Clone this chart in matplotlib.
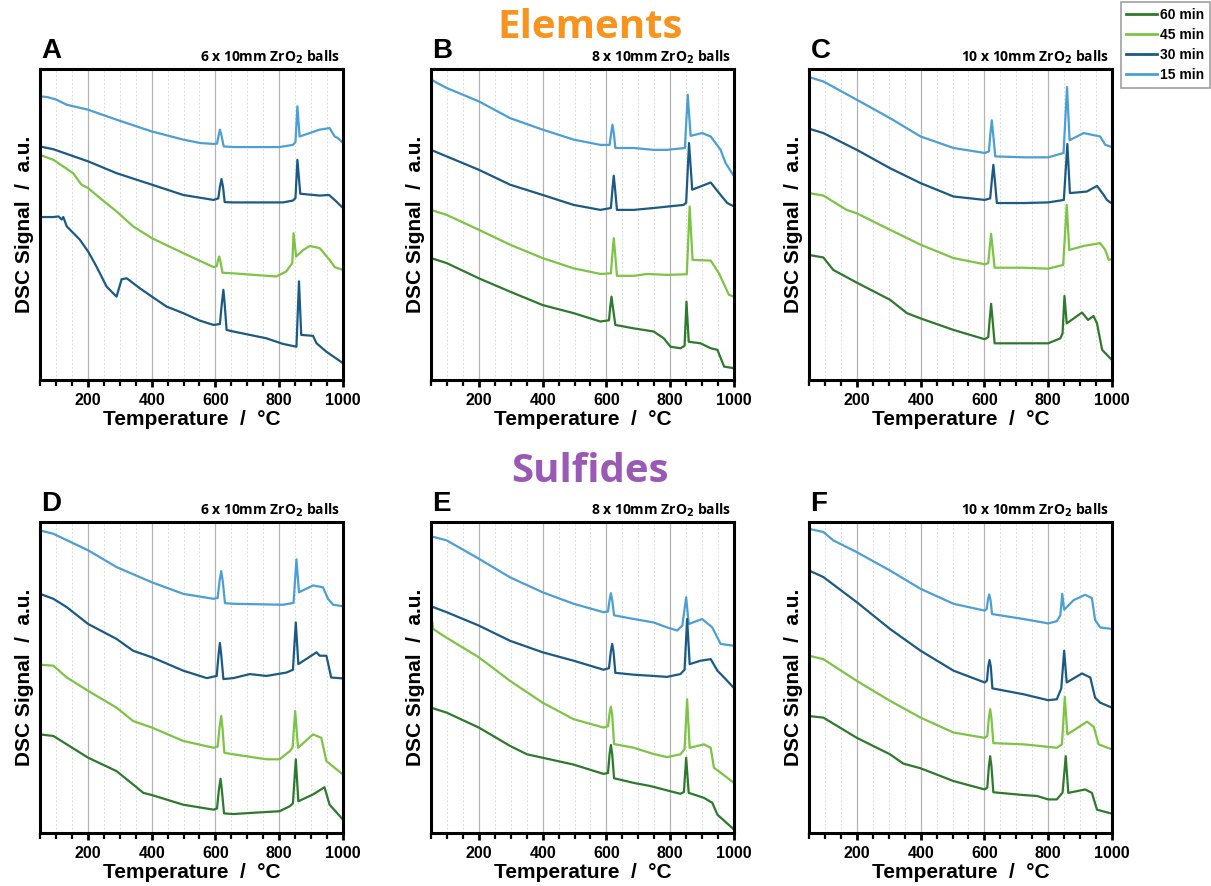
import matplotlib.pyplot as plt
from matplotlib.ticker import MultipleLocator
from matplotlib.lines import Line2D

plt.rcParams['font.family'] = ['Liberation Sans', 'DejaVu Sans']

# curve colours per milling time
c60, c45, c30, c15 = "#2e7a2c", "#7cc443", "#1b5a84", "#4c9fd5"
times = ["60 min", "45 min", "30 min", "15 min"]

# ---- Elements, 6 balls (A) ----
A15 = [(50, 91.2), (72, 91.0), (100, 90.2), (134, 88.5), (201, 86.9), (290, 83.7), (401, 79.9), (499, 77.3),
       (552, 76.2), (594, 75.9), (605, 76.0), (610, 78.6), (614, 80.5), (619, 78.6), (626, 75.1), (656, 74.9),
       (800, 74.9), (843, 75.6), (851, 76.5), (857, 88.0), (864, 78.3), (927, 80.5), (958, 81.0), (974, 78.3),
       (984, 77.8), (1000, 76.2)]
A30 = [(50, 75.1), (92, 74.2), (201, 70.3), (290, 66.5), (401, 62.8), (499, 59.5), (594, 57.9), (609, 58.4),
       (614, 62.0), (619, 64.6), (624, 62.0), (629, 57.2), (656, 57.1), (812, 57.1), (843, 57.7), (851, 58.5),
       (857, 70.8), (866, 59.9), (927, 59.3), (956, 59.5), (974, 57.9), (1000, 55.3)]
A45 = [(50, 72.4), (92, 70.8), (154, 66.5), (170, 64.2), (180, 62.8), (201, 61.7), (238, 58.5), (290, 54.2),
       (342, 49.4), (401, 45.6), (499, 40.8), (594, 36.3), (604, 36.6), (608, 38.4), (612, 39.7), (616, 38.0),
       (622, 34.5), (656, 34.3), (760, 33.5), (791, 33.3), (822, 34.9), (841, 37.6), (845, 47.2), (853, 39.7),
       (875, 41.8), (896, 43.1), (927, 42.4), (958, 38.6), (974, 36.3), (1000, 35.4)]
A60 = [(50, 52.4), (92, 52.4), (108, 52.6), (118, 51.6), (123, 52.4), (134, 49.4), (175, 45.1), (201, 41.3),
       (227, 36.5), (259, 30.0), (290, 26.8), (306, 32.4), (322, 32.7), (363, 29.5), (401, 26.8), (447, 23.6),
       (499, 21.5), (551, 19.1), (594, 17.7), (614, 18.0), (620, 24.5), (625, 29.0), (629, 24.5), (635, 16.1),
       (656, 15.6), (760, 13.4), (812, 11.6), (854, 10.7), (862, 31.7), (869, 14.5), (906, 14.2), (917, 11.8),
       (948, 9.1), (1000, 5.4)]

# ---- Elements, 8 balls (B) ----
B15 = [(50, 96.6), (99, 93.9), (200, 89.6), (298, 84.2), (400, 80.5), (497, 77.3), (581, 75.6), (610, 75.6),
       (615, 79.5), (619, 82.1), (623, 79.5), (628, 74.6), (686, 74.6), (748, 74.0), (790, 74.0), (846, 74.6),
       (855, 91.7), (864, 78.5), (900, 79.4), (927, 78.3), (958, 74.0), (974, 69.7), (1000, 65.5)]
B30 = [(50, 74.0), (99, 71.9), (200, 67.6), (298, 62.8), (400, 59.5), (497, 56.3), (581, 54.7), (614, 55.3),
       (619, 61.5), (623, 65.7), (627, 61.5), (633, 54.7), (686, 54.7), (748, 55.3), (842, 56.3), (850, 57.0),
       (859, 76.2), (869, 61.2), (927, 63.5), (958, 59.5), (979, 56.9), (1000, 55.8)]
B45 = [(50, 54.7), (99, 53.1), (200, 48.3), (298, 43.5), (400, 39.2), (497, 35.9), (581, 34.1), (614, 34.3),
       (619, 41.0), (623, 45.6), (627, 41.0), (633, 33.5), (686, 33.5), (728, 34.1), (790, 33.8), (852, 34.0),
       (861, 55.8), (870, 38.6), (927, 38.4), (953, 34.3), (984, 27.4), (1000, 26.8)]
B60 = [(50, 39.2), (99, 37.6), (200, 32.7), (298, 28.4), (400, 24.1), (497, 21.5), (581, 18.8), (608, 19.2),
       (612, 23.5), (616, 26.8), (620, 23.5), (628, 17.7), (686, 16.6), (748, 15.6), (780, 13.4), (801, 10.7),
       (832, 10.2), (845, 11.0), (851, 25.2), (858, 12.3), (895, 11.8), (927, 10.2), (948, 9.7), (969, 4.3),
       (1000, 3.8)]

# ---- Elements, 10 balls (C) ----
C15 = [(50, 97.4), (95, 96.0), (200, 90.1), (304, 84.2), (400, 78.3), (503, 74.6), (601, 73.0), (614, 73.5),
       (619, 79.5), (623, 83.5), (627, 79.5), (634, 71.9), (723, 71.6), (800, 71.6), (848, 73.0), (859, 94.2),
       (867, 77.1), (911, 79.4), (963, 78.3), (979, 75.6), (1000, 74.9)]
C30 = [(50, 80.8), (95, 79.4), (200, 74.0), (304, 68.1), (400, 63.3), (503, 59.0), (601, 57.9), (618, 58.4),
       (624, 65.0), (628, 69.2), (632, 65.0), (639, 56.9), (723, 56.9), (800, 57.1), (849, 57.9), (860, 75.9),
       (868, 60.1), (921, 60.6), (953, 62.4), (974, 59.5), (984, 57.9), (1000, 56.7)]
C45 = [(50, 60.1), (95, 59.3), (168, 54.7), (200, 53.6), (304, 48.3), (400, 43.5), (503, 39.2), (601, 37.2),
       (612, 37.6), (617, 43.0), (621, 47.0), (625, 43.0), (632, 36.1), (723, 36.1), (800, 35.8), (847, 37.0),
       (858, 56.3), (866, 41.8), (911, 43.1), (963, 44.0), (979, 41.8), (990, 38.6), (1000, 38.9)]
C60 = [(50, 40.2), (95, 39.4), (126, 35.4), (200, 31.3), (304, 25.8), (357, 21.5), (400, 19.8), (503, 16.1),
       (601, 13.1), (612, 13.8), (617, 20.0), (621, 24.5), (625, 20.0), (632, 11.8), (723, 11.8), (800, 11.8),
       (838, 13.4), (845, 15.0), (851, 27.0), (858, 18.2), (906, 21.7), (925, 19.3), (942, 20.6), (953, 18.2),
       (969, 9.7), (1000, 6.4)]

# ---- Sulfides, 6 balls (D) ----
D15 = [(50, 97.3), (92, 96.2), (201, 90.9), (290, 85.5), (401, 80.6), (499, 76.9), (594, 75.3), (607, 75.6),
       (613, 81.0), (618, 84.2), (623, 81.0), (630, 73.9), (656, 73.7), (760, 73.5), (812, 73.4), (845, 74.0),
       (854, 88.0), (862, 77.4), (906, 79.6), (937, 79.0), (953, 75.3), (969, 73.4), (1000, 72.9)]
D30 = [(50, 76.9), (92, 75.3), (134, 72.6), (201, 67.2), (290, 62.4), (342, 58.6), (401, 56.5), (499, 52.2),
       (573, 49.8), (604, 50.5), (610, 57.5), (614, 61.1), (618, 57.5), (625, 49.5), (656, 49.8), (708, 51.1),
       (760, 50.5), (823, 51.6), (843, 52.5), (852, 67.7), (860, 54.3), (917, 58.1), (927, 57.0), (948, 57.0),
       (963, 50.0), (1000, 49.7)]
D45 = [(50, 54.1), (92, 53.8), (134, 50.0), (201, 45.7), (290, 40.3), (342, 36.0), (401, 33.9), (499, 29.6),
       (594, 27.4), (607, 27.8), (613, 34.0), (618, 37.6), (622, 34.0), (628, 25.8), (656, 25.3), (760, 23.7),
       (801, 23.7), (833, 26.3), (842, 27.5), (850, 39.2), (859, 27.4), (906, 31.7), (932, 30.6), (948, 23.1),
       (1000, 18.8)]
D60 = [(50, 31.7), (92, 31.2), (134, 28.5), (201, 24.2), (290, 19.9), (342, 15.6), (374, 12.9), (401, 12.2),
       (499, 9.1), (594, 7.5), (605, 7.9), (611, 14.0), (616, 17.4), (620, 14.0), (627, 6.3), (656, 6.1),
       (718, 6.5), (801, 7.0), (833, 8.6), (843, 9.5), (852, 23.7), (860, 10.2), (906, 12.4), (942, 14.7),
       (958, 9.1), (1000, 4.3)]

# ---- Sulfides, 8 balls (E) ----
E15 = [(50, 95.4), (99, 94.1), (200, 88.2), (298, 82.2), (400, 77.4), (497, 73.7), (591, 71.0), (605, 71.2),
       (610, 75.0), (614, 77.1), (618, 75.0), (624, 70.0), (686, 68.8), (748, 67.7), (790, 66.1), (822, 65.1),
       (838, 66.7), (850, 75.8), (858, 67.2), (900, 68.8), (932, 66.1), (958, 60.8), (1000, 60.2)]
E30 = [(50, 72.9), (99, 71.0), (200, 66.7), (298, 61.8), (400, 58.1), (497, 55.4), (591, 52.5), (608, 53.0),
       (614, 58.5), (618, 60.8), (622, 58.5), (628, 51.5), (686, 50.9), (748, 50.5), (790, 50.2), (832, 51.1),
       (845, 52.5), (853, 68.8), (861, 54.3), (895, 55.4), (927, 55.9), (948, 52.2), (969, 50.0), (1000, 46.6)]
E45 = [(50, 69.9), (57, 65.6), (89, 63.4), (200, 56.5), (298, 48.9), (400, 41.9), (497, 36.6), (591, 33.9),
       (605, 34.3), (610, 38.5), (614, 40.6), (618, 38.0), (624, 28.6), (686, 27.4), (748, 25.4), (790, 24.4),
       (832, 25.3), (845, 27.0), (853, 43.0), (861, 27.4), (906, 28.5), (927, 27.4), (937, 21.0), (958, 19.4),
       (1000, 16.1)]
E60 = [(50, 40.3), (99, 38.7), (200, 33.9), (298, 28.0), (351, 25.3), (400, 24.2), (497, 22.0), (591, 19.0),
       (605, 19.3), (610, 25.5), (614, 28.3), (618, 25.5), (624, 17.6), (686, 16.1), (738, 15.1), (790, 13.7),
       (832, 12.6), (843, 13.2), (850, 24.2), (858, 12.9), (906, 11.3), (932, 9.7), (948, 5.9), (1000, 1.1)]

# ---- Sulfides, 10 balls (F) ----
F15 = [(50, 97.8), (95, 96.8), (126, 94.1), (200, 90.3), (304, 84.4), (400, 78.5), (503, 73.7), (601, 71.5),
       (607, 72.0), (611, 75.0), (615, 76.7), (619, 75.0), (624, 70.4), (723, 68.8), (800, 67.4), (827, 68.1),
       (838, 70.0), (844, 76.9), (850, 71.8), (880, 74.9), (916, 76.6), (937, 75.5), (947, 68.5), (963, 66.1),
       (1000, 65.6)]
F30 = [(50, 84.4), (95, 82.3), (200, 74.2), (304, 65.6), (400, 58.6), (503, 52.2), (601, 48.4), (608, 49.0),
       (612, 53.5), (616, 55.6), (620, 53.5), (625, 46.5), (723, 44.6), (800, 42.7), (827, 43.0), (841, 46.5),
       (850, 58.6), (858, 48.4), (906, 51.3), (932, 50.0), (947, 43.5), (963, 41.9), (1000, 40.3)]
F45 = [(50, 57.0), (95, 55.9), (200, 48.9), (304, 42.5), (400, 37.1), (503, 32.3), (601, 30.6), (609, 31.2),
       (614, 37.0), (618, 39.8), (622, 37.0), (628, 28.9), (723, 28.5), (754, 28.2), (827, 27.4), (843, 28.5),
       (852, 43.8), (860, 31.7), (922, 35.8), (943, 34.1), (958, 28.5), (1000, 26.9)]
F60 = [(50, 37.6), (95, 37.1), (200, 30.6), (304, 25.3), (346, 22.3), (400, 20.8), (503, 16.7), (601, 14.0),
       (609, 14.6), (614, 21.5), (618, 24.7), (622, 21.5), (628, 13.1), (723, 12.2), (765, 11.9), (800, 10.8),
       (827, 10.8), (845, 13.0), (855, 24.7), (863, 12.9), (916, 14.0), (937, 12.9), (953, 7.5), (1000, 6.2)]

panels = [
    ("A", "6", [(A15, c15), (A30, c30), (A45, c45), (A60, c30)]),
    ("B", "8", [(B15, c15), (B30, c30), (B45, c45), (B60, c60)]),
    ("C", "10", [(C15, c15), (C30, c30), (C45, c45), (C60, c60)]),
    ("D", "6", [(D15, c15), (D30, c30), (D45, c45), (D60, c60)]),
    ("E", "8", [(E15, c15), (E30, c30), (E45, c45), (E60, c60)]),
    ("F", "10", [(F15, c15), (F30, c30), (F45, c45), (F60, c60)]),
]

W, H = 1211, 886
fig = plt.figure(figsize=(W / 100, H / 100), dpi=100)

lefts = [40, 431, 809]
tops = [69, 522]
for i, (letter, nballs, curves) in enumerate(panels):
    l = lefts[i % 3]
    t = tops[i // 3]
    ax = fig.add_axes([l / W, 1 - (t + 311) / H, 303 / W, 311 / H])
    for pts, col in curves:
        ax.plot([p[0] for p in pts], [p[1] for p in pts], color=col, lw=1.6,
                solid_joinstyle="round", solid_capstyle="round")
    ax.set_xlim(50, 1000)
    ax.set_ylim(0, 100)
    ax.xaxis.set_major_locator(MultipleLocator(200))
    ax.xaxis.set_minor_locator(MultipleLocator(50))
    ax.grid(True, which="major", axis="x", color="#b4b4b4", lw=0.9)
    ax.grid(True, which="minor", axis="x", color="#dcdcdc", lw=0.7, ls=(0, (2, 2)))
    ax.set_axisbelow(True)
    ax.set_yticks([])
    ax.tick_params(axis="x", which="major", length=5, width=2, direction="out", labelsize=11.5, pad=4)
    ax.tick_params(axis="x", which="minor", length=4, width=1.6, direction="out")
    for lab in ax.get_xticklabels():
        lab.set_fontweight("bold")
    for s in ax.spines.values():
        s.set_linewidth(2.2)
    ax.set_xlabel("Temperature  /  °C", fontsize=15, fontweight="bold", labelpad=2)
    ax.set_ylabel("DSC Signal  /  a.u.", fontsize=15, fontweight="bold", labelpad=4)
    ax.text(0.005, 1.015, letter, transform=ax.transAxes, fontsize=20, fontweight="bold", va="bottom", ha="left")
    ax.text(0.99, 1.01, nballs + r" x 10mm ZrO$_{\bf 2}$ balls", transform=ax.transAxes, fontsize=10,
            fontweight="bold", family="Open Sans", va="bottom", ha="right")

fig.text(590 / W, 1 - 27 / H, "Elements", color="#f7941d", fontsize=29, fontweight="bold",
         family="Open Sans", ha="center", va="center")
fig.text(590 / W, 1 - 472 / H, "Sulfides", color="#9b59b6", fontsize=29, fontweight="bold",
         family="Open Sans", ha="center", va="center")

handles = [Line2D([], [], color=c, lw=2) for c in (c60, c45, c30, c15)]
leg = fig.legend(handles, times, loc="upper right", bbox_to_anchor=(1210 / W, 1 - 2 / H), frameon=True,
                 fancybox=False, edgecolor="#888888", handlelength=2.2, handletextpad=0.25, labelspacing=0.45,
                 borderpad=0.4, borderaxespad=0, prop={"weight": "bold", "size": 10})
leg.get_frame().set_linewidth(1.2)

fig.savefig("out.png", dpi=100)
